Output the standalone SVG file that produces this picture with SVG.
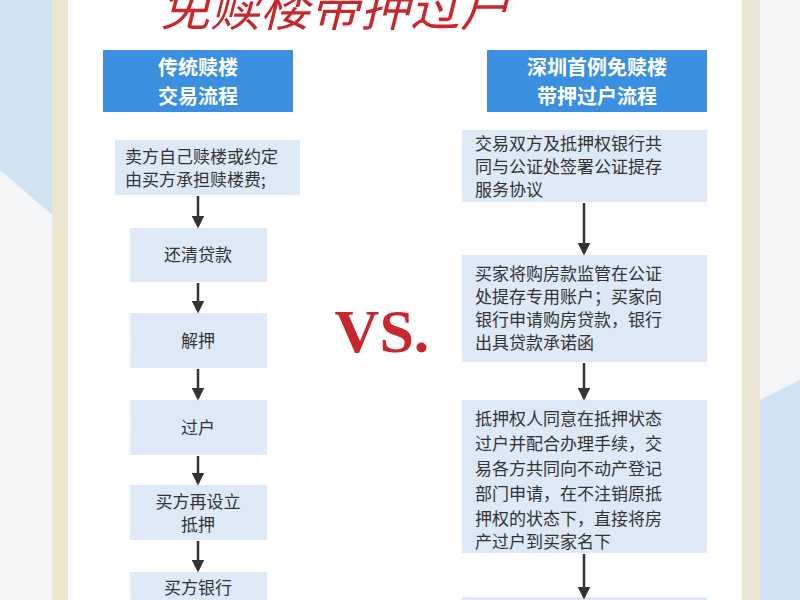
<svg xmlns="http://www.w3.org/2000/svg" width="800" height="600" viewBox="0 0 800 600">
<defs>
<style>
.box{fill:#dde9f7}
.hd{fill:#3b8fe0}
.ht{font-family:"Noto Sans CJK SC",sans-serif;font-size:20px;font-weight:bold;fill:#fff;text-anchor:middle}
.t{font-family:"Noto Sans CJK SC",sans-serif;font-size:17px;fill:#333}
.c{text-anchor:middle}
.ln{stroke:#333;stroke-width:2.5;fill:none;marker-end:url(#a)}
</style>
<marker id="a" viewBox="0 0 10 10" refX="8" refY="5" markerWidth="5" markerHeight="5" orient="auto"><path d="M0,0L10,5L0,10z" fill="#333"/></marker>
</defs>
<rect width="800" height="600" fill="#f4f6f8"/>
<path d="M0,0H70V230L0,170z" fill="#cfe3f3"/>
<path d="M740,410L800,380V600H740z" fill="#cfe3f3"/>
<rect x="52" y="0" width="708" height="600" fill="#ede6d3"/>
<rect x="68" y="0" width="674" height="600" fill="#ffffff"/>
<text x="160" y="26" font-family="Noto Sans CJK SC,sans-serif" font-size="50" fill="#c8282c" font-style="italic">免赎楼带押过户</text>
<g id="vs"><text x="382" y="352" font-family="Liberation Serif,serif" font-size="62" font-weight="bold" fill="#c8282c" text-anchor="middle">VS.</text></g>
<g id="lh"><rect class="hd" x="103" y="50" width="190" height="62"/><text class="ht" x="198" y="75">传统赎楼</text><text class="ht" x="198" y="104">交易流程</text></g>
<g id="l1"><rect class="box" x="115" y="140" width="185" height="55"/><text class="t" x="125" y="163">卖方自己赎楼或约定</text><text class="t" x="125" y="186">由买方承担赎楼费;</text></g>
<g id="l2"><rect class="box" x="130" y="228" width="137" height="54"/><text class="t c" x="198" y="261">还清贷款</text></g>
<g id="l3"><rect class="box" x="130" y="313" width="137" height="55"/><text class="t c" x="198" y="347">解押</text></g>
<g id="l4"><rect class="box" x="130" y="400" width="137" height="55"/><text class="t c" x="198" y="434">过户</text></g>
<g id="l5"><rect class="box" x="130" y="485" width="137" height="55"/><text class="t c" x="198" y="508">买方再设立</text><text class="t c" x="198" y="531">抵押</text></g>
<g id="l6"><rect class="box" x="130" y="572" width="137" height="40"/><text class="t c" x="198" y="594">买方银行</text></g>
<g id="rh"><rect class="hd" x="487" y="50" width="220" height="62"/><text class="ht" x="597" y="75">深圳首例免赎楼</text><text class="ht" x="597" y="104">带押过户流程</text></g>
<g id="r1"><rect class="box" x="462" y="130" width="245" height="72"/><text class="t" x="475" y="150">交易双方及抵押权银行共</text><text class="t" x="475" y="173">同与公证处签署公证提存</text><text class="t" x="475" y="196">服务协议</text></g>
<g id="r2"><rect class="box" x="462" y="255" width="245" height="107"/><text class="t" x="475" y="280">买家将购房款监管在公证</text><text class="t" x="475" y="303">处提存专用账户；买家向</text><text class="t" x="475" y="326">银行申请购房贷款，银行</text><text class="t" x="475" y="349">出具贷款承诺函</text></g>
<g id="r3"><rect class="box" x="462" y="400" width="245" height="153"/><text class="t" x="475" y="425">抵押权人同意在抵押状态</text><text class="t" x="475" y="450">过户并配合办理手续，交</text><text class="t" x="475" y="475">易各方共同向不动产登记</text><text class="t" x="475" y="500">部门申请，在不注销原抵</text><text class="t" x="475" y="525">押权的状态下，直接将房</text><text class="t" x="475" y="548">产过户到买家名下</text></g>
<g id="r4"><rect class="box" x="462" y="597" width="245" height="10"/></g>
<g id="connectors">
<path class="ln" d="M198,196V226"/>
<path class="ln" d="M198,283V311"/>
<path class="ln" d="M198,369V398"/>
<path class="ln" d="M198,456V483"/>
<path class="ln" d="M198,541V570"/>
<path class="ln" d="M584,203V253"/>
<path class="ln" d="M584,363V398"/>
<path class="ln" d="M584,554V597"/>
</g>
</svg>
